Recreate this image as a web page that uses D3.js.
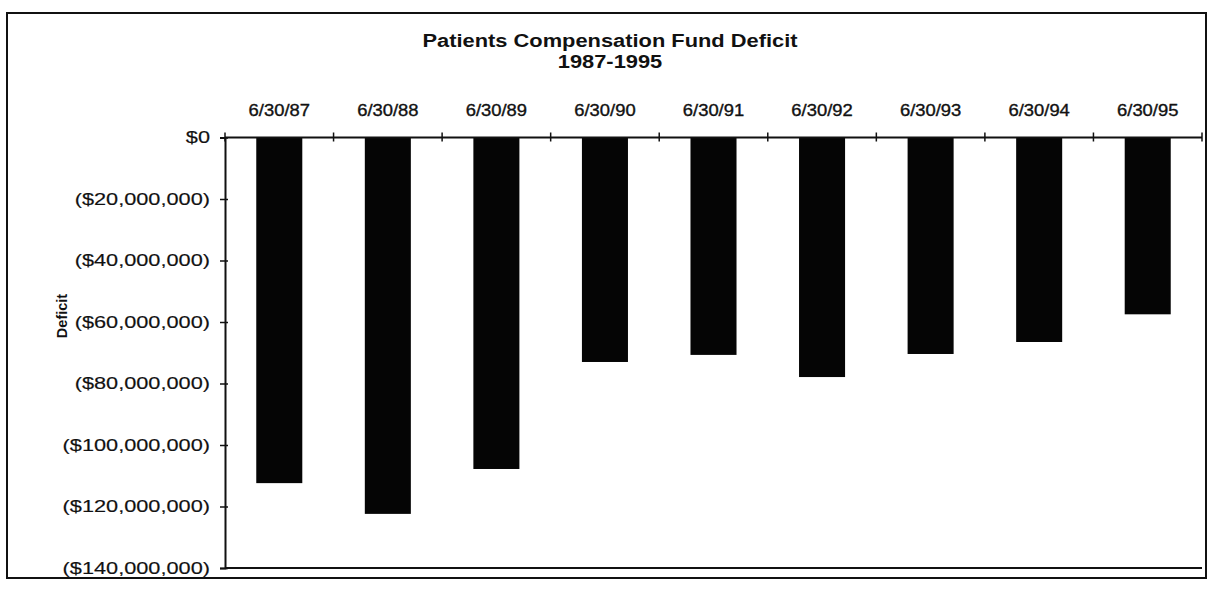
<!DOCTYPE html>
<html>
<head>
<meta charset="utf-8">
<script src="https://cdn.jsdelivr.net/npm/d3@7"></script>
<style>
  html, body { margin: 0; padding: 0; background: #fff; }
  svg { display: block; font-family: "Liberation Sans", Arial, sans-serif; }
</style>
</head>
<body>
<svg id="chart" width="1212" height="601"></svg>
<script>
const categories = ["6/30/87", "6/30/88", "6/30/89", "6/30/90", "6/30/91", "6/30/92", "6/30/93", "6/30/94", "6/30/95"];
const deficits = [-112400000, -122400000, -107800000, -73000000, -70700000, -77900000, -70400000, -66500000, -57500000];
const yTicks = [0, -20000000, -40000000, -60000000, -80000000, -100000000, -120000000, -140000000];
const titleLines = ["Patients Compensation Fund Deficit", "1987-1995"];
const yAxisTitle = "Deficit";

const svg = d3.select("#chart");
const plot = { left: 225, right: 1202, top: 137.5, bottom: 568 };

// outer frame
svg.append("rect")
  .attr("x", 7).attr("y", 13).attr("width", 1199).attr("height", 565)
  .attr("fill", "none").attr("stroke", "#111").attr("stroke-width", 2);

const x = d3.scaleBand().domain(categories).range([plot.left, plot.right])
  .paddingInner(0.576).paddingOuter(0.288);
const y = d3.scaleLinear().domain([-140000000, 0]).range([plot.bottom, plot.top]);

const fmt = v => v === 0 ? "$0" : "($" + d3.format(",")(Math.abs(v)) + ")";

function stretch(sel, sx) {
  sel.each(function() {
    const t = d3.select(this);
    const tx = +t.attr("x") || 0;
    const ty = +t.attr("y") || 0;
    t.attr("x", tx / sx).attr("y", ty)
     .attr("transform", `scale(${sx},1)`);
  });
}
function thicken(sel, w) {
  sel.attr("stroke", "#111").attr("stroke-width", w).attr("paint-order", "stroke");
}

// bars
svg.append("g").selectAll("rect").data(categories).join("rect")
  .attr("x", d => x(d))
  .attr("width", x.bandwidth())
  .attr("y", y(0))
  .attr("height", (d, i) => y(deficits[i]) - y(0))
  .attr("fill", "#050505");

// y axis
const yAxis = svg.append("g").attr("transform", `translate(${plot.left},0)`)
  .call(d3.axisLeft(y).tickValues(yTicks).tickFormat(fmt).tickSize(5).tickPadding(10));
yAxis.select(".domain").attr("stroke", "#111").attr("stroke-width", 2);
yAxis.selectAll(".tick line").attr("stroke", "#111").attr("stroke-width", 1.5);
yAxis.selectAll(".tick text")
  .attr("font-size", 16).attr("fill", "#111");
thicken(yAxis.selectAll(".tick text"), 0.15);
stretch(yAxis.selectAll(".tick text"), 1.36);
svg.append("g").attr("transform", `translate(${plot.left},0)`)
  .call(d3.axisRight(y).tickValues(yTicks).tickFormat("").tickSize(3))
  .call(g => g.select(".domain").remove())
  .selectAll(".tick line").attr("stroke", "#111").attr("stroke-width", 1.5);

// top axis (category labels) on the zero line
const xAxis = svg.append("g").attr("transform", `translate(0,${y(0)})`)
  .call(d3.axisTop(x).tickSize(0).tickPadding(22));
xAxis.select(".domain").remove();
xAxis.selectAll(".tick text").attr("font-size", 16).attr("fill", "#111");
thicken(xAxis.selectAll(".tick text"), 0.35);
stretch(xAxis.selectAll(".tick text"), 1.15);

// zero line and bottom line
svg.append("line").attr("x1", plot.left).attr("x2", plot.right)
  .attr("y1", y(0)).attr("y2", y(0)).attr("stroke", "#111").attr("stroke-width", 2);
svg.append("line").attr("x1", plot.left).attr("x2", plot.right)
  .attr("y1", y(-140000000)).attr("y2", y(-140000000)).attr("stroke", "#111").attr("stroke-width", 2);

// category boundary ticks
const step = x.step();
const boundaries = categories.map((c, i) => i).concat([categories.length]);
svg.append("g").selectAll("line").data(boundaries).join("line")
  .attr("x1", i => plot.left + i * step).attr("x2", i => plot.left + i * step)
  .attr("y1", y(0) - 5).attr("y2", y(0) + 4)
  .attr("stroke", "#111").attr("stroke-width", 1.5);

// title
const title = svg.append("g").attr("font-weight", "bold").attr("font-size", 19).attr("fill", "#111");
titleLines.forEach((t, i) => {
  title.append("text").attr("x", 610).attr("y", 47 + i * 21)
    .attr("text-anchor", "middle").text(t);
});
stretch(title.selectAll("text"), 1.15);

// y axis title
svg.append("text")
  .attr("transform", `translate(67,316) rotate(-90)`)
  .attr("text-anchor", "middle")
  .attr("font-weight", "bold").attr("font-size", 14.5).attr("fill", "#111")
  .text(yAxisTitle);
</script>
</body>
</html>
